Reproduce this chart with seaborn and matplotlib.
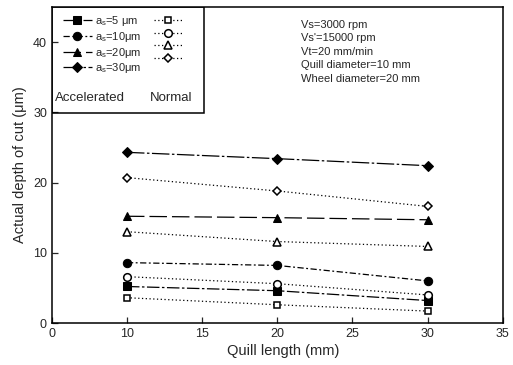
import matplotlib
matplotlib.use("Agg")
import matplotlib.pyplot as plt
import matplotlib.patches as mpatches
import seaborn as sns
import pandas as pd

# ---- data ----
quill_length = [10, 20, 30]
acc_5 = [5.2, 4.6, 3.2]
acc_10 = [8.6, 8.2, 6.0]
acc_20 = [15.2, 15.0, 14.7]
acc_30 = [24.3, 23.4, 22.4]
norm_5 = [3.6, 2.6, 1.7]
norm_10 = [6.6, 5.6, 4.0]
norm_20 = [13.0, 11.6, 10.9]
norm_30 = [20.7, 18.8, 16.6]
labels = ["a$_\\mathregular{s}$=5 μm", "a$_\\mathregular{s}$=10μm",
          "a$_\\mathregular{s}$=20μm", "a$_\\mathregular{s}$=30μm"]
xtick_pos = [5, 10, 15, 20, 25, 30, 35]
xtick_labels = ["0", "10", "15", "20", "25", "30", "35"]
ytick_pos = [0, 10, 20, 30, 40]
conditions = ["Vs=3000 rpm", "Vs'=15000 rpm", "Vt=20 mm/min",
              "Quill diameter=10 mm", "Wheel diameter=20 mm"]

sns.set_style("ticks")
plt.rcParams['font.family'] = ['Liberation Sans', 'DejaVu Sans']
plt.rcParams['mathtext.fontset'] = 'custom'
plt.rcParams['mathtext.rm'] = 'Liberation Sans'

fig = plt.figure(figsize=(5.13, 3.65), dpi=100)
ax = fig.add_axes([0.101, 0.115, 0.879, 0.866])

acc_series = [acc_5, acc_10, acc_20, acc_30]
norm_series = [norm_5, norm_10, norm_20, norm_30]
markers = ["s", "o", "^", "D"]
msizes = [5.5, 6, 6, 5]
acc_styles = [(0, (10, 2, 2, 2)), (0, (5, 2, 1.5, 2)), (0, (14, 4)), (0, (14, 2, 2, 2))]

acc_handles = []
norm_handles = []
for ys, m, ms, ls in zip(acc_series, markers, msizes, acc_styles):
    df = pd.DataFrame({"x": quill_length, "y": ys})
    sns.lineplot(data=df, x="x", y="y", ax=ax, color="black", linestyle=ls,
                 linewidth=0.9, marker=m, markersize=ms, markerfacecolor="black",
                 markeredgecolor="black")
    acc_handles.append(ax.lines[-1])
for ys, m, ms in zip(norm_series, markers, msizes):
    df = pd.DataFrame({"x": quill_length, "y": ys})
    sns.lineplot(data=df, x="x", y="y", ax=ax, color="black", linestyle=(0, (1, 2)),
                 linewidth=0.9, marker=m, markersize=ms - 0.5, markerfacecolor="white",
                 markeredgecolor="black", markeredgewidth=1.1)
    norm_handles.append(ax.lines[-1])

ax.set_xlim(5, 35)
ax.set_ylim(0, 45)
ax.set_xticks(xtick_pos)
ax.set_xticklabels(xtick_labels)
ax.set_yticks(ytick_pos)
ax.tick_params(direction="in", length=4, width=0.9, labelsize=9, top=False, right=False)
for s in ax.spines.values():
    s.set_linewidth(1.1)
    s.set_color("black")
ax.set_xlabel("Quill length (mm)", fontsize=10.5)
ax.xaxis.set_label_coords(0.512, -0.065)
ax.set_ylabel("Actual depth of cut (μm)", fontsize=10.5)

leg1 = ax.legend(handles=acc_handles, labels=labels,
                 loc="upper left", bbox_to_anchor=(0.005, 1.005), frameon=False,
                 fontsize=8, handlelength=2.6, labelspacing=0.15,
                 handletextpad=0.3, borderpad=0.3)
ax.add_artist(leg1)
leg2 = ax.legend(handles=norm_handles, labels=["", "", "", ""],
                 loc="upper left", bbox_to_anchor=(0.208, 1.0), frameon=False,
                 fontsize=8, handlelength=2.5, labelspacing=0.25,
                 handletextpad=0.0, borderpad=0.3)

ax.add_patch(mpatches.Rectangle((0, 0.665), 0.337, 0.335, transform=ax.transAxes,
                                fill=False, edgecolor="black", linewidth=1.1))
ax.text(0.008, 0.712, "Accelerated", transform=ax.transAxes, fontsize=9.5, va="center")
ax.text(0.217, 0.712, "Normal", transform=ax.transAxes, fontsize=9.5, va="center")

ax.text(0.552, 0.96, "\n".join(conditions), transform=ax.transAxes, fontsize=8,
        va="top", ha="left", linespacing=1.45)

fig.savefig("out.png", dpi=100)
